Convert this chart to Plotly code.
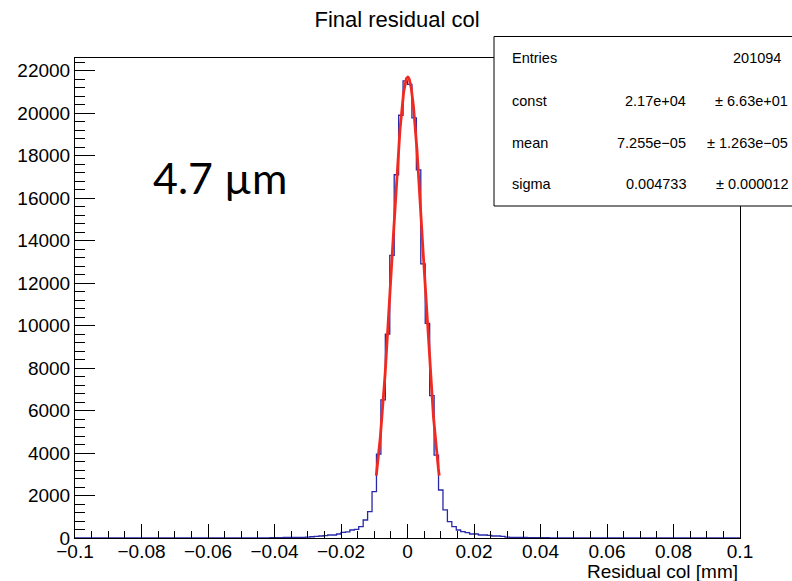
import numpy as np
import plotly.graph_objects as go

# ---------------- data ----------------
x_min, x_max, n_bins = -0.1, 0.1, 150

# bins from -0.1 up to 0 (75 bins)
left_counts = [0, 1, 0, 0, 2, 1, 0, 1, 1, 0,
               2, 1, 1, 0, 1, 2, 1, 1, 3, 1,
               2, 1, 2, 3, 1, 2, 2, 3, 2, 4,
               3, 2, 4, 3, 5, 4, 6, 5, 6, 7,
               8, 7, 9, 10, 12,
               20, 22, 24, 26, 28, 30, 33, 40,
               60, 80, 94, 110, 141, 141, 188, 268, 290, 377,
               410, 532, 848, 1240, 2180, 3950, 6500, 9600, 13300, 17100,
               19900, 21520]
# bins from 0 up to 0.1 (75 bins)
right_counts = [21350, 19780, 17330, 12900, 10100, 6700, 3900, 2260,
                1320, 770, 532, 377, 297, 250, 188, 188, 141, 141,
                120, 94, 94, 80, 40,
                33, 30, 28, 25, 22, 20, 18,
                14, 12, 10, 9, 8, 7, 6, 5, 5, 4,
                4, 3, 3, 2, 3, 2, 2, 1, 2, 1,
                1, 2, 1, 0, 1, 1, 0, 1, 0, 1,
                0, 1, 0, 0, 1, 0, 0, 1, 0, 0,
                1, 0, 0, 0, 1]
counts = left_counts + right_counts

fit_const, fit_mean, fit_sigma = 2.17e4, 7.255e-05, 0.004733

stats_labels = ["Entries", "const", "mean", "sigma"]
stats_values = ["201094", "2.17e+04", "7.255e\u221205", "0.004733"]
stats_errors = ["", "\u00b1 6.63e+01", "\u00b1 1.263e\u221205", "\u00b1 0.000012"]

title_text = "Final residual col"
x_title = "Residual col [mm]"
note_text = "4.7 \u00b5m"

# ---------------- layout geometry ----------------
W, H = 792, 581
L, R, T, B = 75, 740, 58, 538   # frame in page pixels
y_top = 22596

def px(x):
    return (x - L) / (R - L)

def py(y):
    return (B - y) / (B - T)

edges = np.linspace(x_min, x_max, n_bins + 1)

fig = go.Figure()
fig.add_trace(go.Scatter(
    x=edges, y=counts + [counts[-1]], mode="lines",
    line=dict(shape="hv", color="#2828a8", width=1.3),
    hoverinfo="skip", showlegend=False))

xf = np.linspace(fit_mean - 2 * fit_sigma, fit_mean + 2 * fit_sigma, 300)
yf = fit_const * np.exp(-0.5 * ((xf - fit_mean) / fit_sigma) ** 2)
fig.add_trace(go.Scatter(
    x=xf, y=yf, mode="lines",
    line=dict(color="#f02a20", width=2.8),
    hoverinfo="skip", showlegend=False))

font_main = "Liberation Sans, Arial, sans-serif"

fig.update_layout(
    width=W, height=H, autosize=False,
    margin=dict(l=L, r=W - R, t=T, b=H - B),
    paper_bgcolor="white", plot_bgcolor="white",
    title=dict(text=title_text, x=397 / W, xanchor="center",
               y=1 - 19 / H, yanchor="middle", yref="container",
               font=dict(family=font_main, size=22, color="black")),
    xaxis=dict(range=[x_min, x_max], tick0=x_min, dtick=0.02,
               ticks="inside", ticklen=14, tickwidth=1, tickcolor="black",
               showline=True, linecolor="black", linewidth=1, mirror=True,
               showgrid=False, zeroline=False, ticklabelstandoff=-4,
               tickfont=dict(family=font_main, size=19, color="black"),
               minor=dict(tick0=x_min, dtick=0.005, ticks="inside", ticklen=7,
                          tickcolor="black", showgrid=False)),
    yaxis=dict(range=[0, y_top], tick0=0, dtick=2000, tickformat="d",
               ticks="inside", ticklen=20, tickwidth=1, tickcolor="black",
               showline=True, linecolor="black", linewidth=1, mirror=True,
               showgrid=False, zeroline=False,
               tickfont=dict(family=font_main, size=19, color="black"),
               minor=dict(tick0=0, dtick=400, ticks="inside", ticklen=10,
                          tickcolor="black", showgrid=False)),
)

# stats box
fig.add_shape(type="rect", xref="paper", yref="paper",
              x0=px(494), x1=px(810), y0=py(206), y1=py(36.5),
              fillcolor="white", line=dict(color="black", width=1), layer="above")

row_y = [58, 101, 143, 184]
ann = []
for lab, val, err, yy in zip(stats_labels, stats_values, stats_errors, row_y):
    ann.append(dict(text=lab, x=px(510), y=py(yy), xanchor="left", yanchor="middle"))
    if err:
        ann.append(dict(text=val, x=px(688), y=py(yy), xanchor="right", yanchor="middle"))
        ann.append(dict(text=err, x=px(790), y=py(yy), xanchor="right", yanchor="middle"))
    else:
        ann.append(dict(text=val, x=px(783), y=py(yy), xanchor="right", yanchor="middle"))
for a in ann:
    fig.add_annotation(xref="paper", yref="paper", showarrow=False,
                       font=dict(family=font_main, size=14.5, color="black"), **a)

fig.add_annotation(text=x_title, xref="paper", yref="paper", x=1.0, y=py(571),
                   xanchor="right", yanchor="middle", showarrow=False,
                   font=dict(family=font_main, size=19, color="black"))

fig.add_annotation(text=note_text, xref="paper", yref="paper", x=px(220), y=py(177),
                   xanchor="center", yanchor="middle", showarrow=False,
                   font=dict(family="Lato, sans-serif", size=43, color="black"))

fig.write_html("out.html",
               config={"displayModeBar": False},
               post_script="document.body.style.margin='0';"
                           "document.body.style.overflow='hidden';")
